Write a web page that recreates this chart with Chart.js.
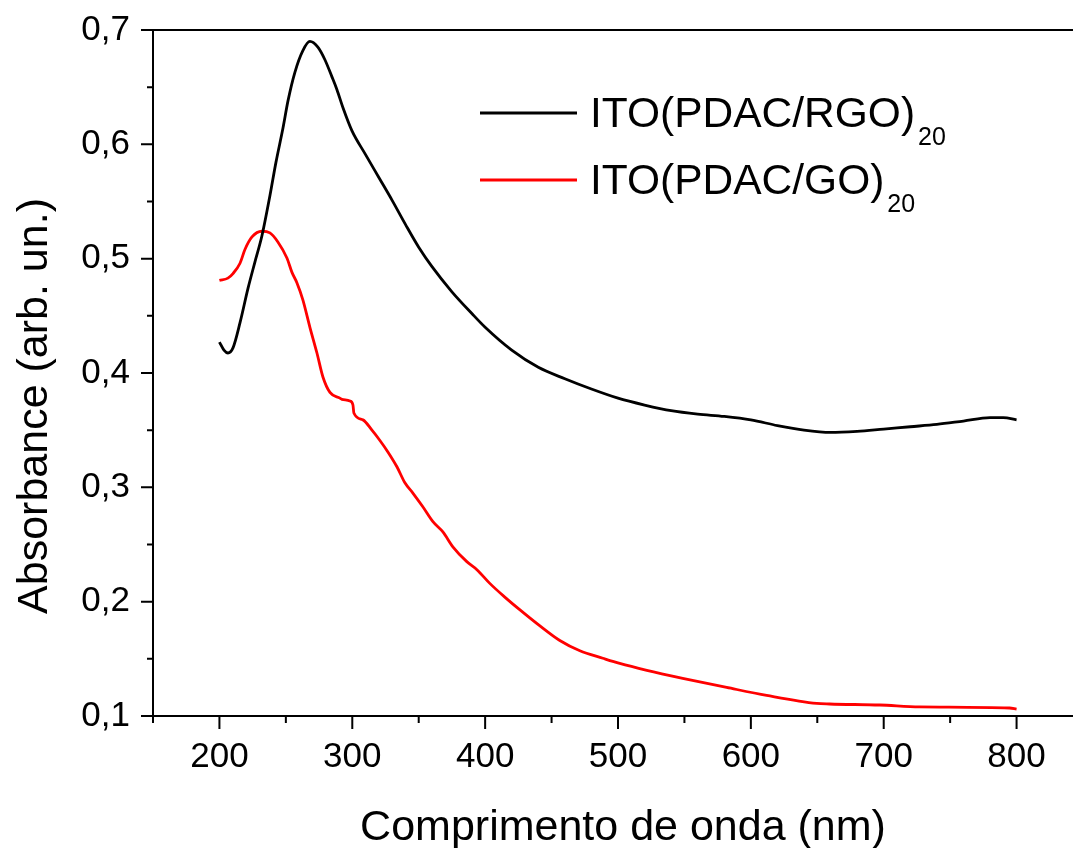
<!DOCTYPE html>
<html>
<head>
<meta charset="utf-8">
<title>Absorbância UV-Vis</title>
<script src="https://cdn.jsdelivr.net/npm/chart.js@4/dist/chart.umd.min.js"></script>
<style>
  html, body { margin: 0; padding: 0; background: #fff; overflow: hidden; }
  canvas { display: block; }
</style>
</head>
<body>
<canvas id="chart" width="1100" height="848"></canvas>
<script>
// Spectrum of ITO(PDAC/RGO)20 — wavelength (nm) and absorbance (arb. un.)
const rgoWavelength = [200, 203.4, 206.4, 210.2, 215.5, 221.5, 226.7, 232, 238, 242.5, 247.8, 251.6, 256.8, 262.8, 268.1, 274.1, 279.4, 284.7, 288.4, 293, 299.7,
  310, 320, 330, 340, 350, 360, 375, 390, 400, 420, 440, 460, 480, 500, 520, 540, 560, 580, 600, 620, 640, 660, 680, 700, 720, 740, 760, 780, 790, 800];
const rgoAbsorbance = [0.427, 0.420, 0.4175, 0.422, 0.444, 0.474, 0.497, 0.520, 0.555, 0.584, 0.614, 0.638, 0.663, 0.682, 0.690, 0.685, 0.674, 0.659, 0.648, 0.632, 0.612,
  0.591, 0.571, 0.551, 0.530, 0.510, 0.493, 0.471, 0.452, 0.440, 0.420, 0.405, 0.395, 0.386, 0.378, 0.372, 0.367, 0.364, 0.362, 0.359, 0.354, 0.350, 0.348, 0.349, 0.351, 0.353, 0.355, 0.358, 0.361, 0.361, 0.359];

// Spectrum of ITO(PDAC/GO)20
const goWavelength = [200, 206.4, 210.2, 215.5, 219.2, 224.5, 232, 238, 244, 250.8, 254.6, 258.3, 262.8, 268.1, 273.4, 277.9, 283.2, 290.7, 292.2, 298.2, 300.5, 301.2,
  308, 314.8, 320.8, 326.8, 333.6, 339.6, 345.6, 353.1, 360.7, 368.2, 375.7, 386.2, 393.8, 403.5, 414.8, 426, 441, 456.2,
  471.3, 488.6, 501.3, 521.7, 548.7, 581.8, 611.9, 649.6, 659.3, 697, 727, 794.7, 800];
const goAbsorbance = [0.481, 0.483, 0.487, 0.496, 0.508, 0.519, 0.524, 0.5225, 0.5146, 0.5006, 0.488, 0.479, 0.464, 0.440, 0.4175, 0.3965, 0.383, 0.378, 0.377, 0.3755, 0.372, 0.365,
  0.359, 0.350, 0.341, 0.331, 0.318, 0.304, 0.295, 0.283, 0.270, 0.261, 0.248, 0.235, 0.228, 0.216, 0.204, 0.193, 0.179, 0.166,
  0.157, 0.1505, 0.146, 0.140, 0.133, 0.125, 0.118, 0.111, 0.1105, 0.1096, 0.108, 0.107, 0.106];

// Axis ticks
const xMajorTicks = [200, 300, 400, 500, 600, 700, 800];
const xMinorTicks = [150, 250, 350, 450, 550, 650, 750, 850];
const yMajorTicks = [0.1, 0.2, 0.3, 0.4, 0.5, 0.6, 0.7];
const yMinorTicks = [0.15, 0.25, 0.35, 0.45, 0.55, 0.65];

// Legend entries: main text + subscript
const seriesNames = ['ITO(PDAC/RGO)', 'ITO(PDAC/GO)'];
const seriesSubscripts = ['20', '20'];
const seriesColors = ['#000000', '#ff0000'];

const FONT = "'Liberation Sans', Arial, Helvetica, sans-serif";

function toPoints(xs, ys) { return xs.map((x, i) => ({ x: x, y: ys[i] })); }

// Frame, tick marks, axis titles and subscripted legend
const decorations = {
  id: 'decorations',
  afterDraw(chart) {
    const ctx = chart.ctx;
    const xs = chart.scales.x, ys = chart.scales.y;
    const area = chart.chartArea;
    ctx.save();
    ctx.strokeStyle = '#000';
    ctx.lineWidth = 2;
    ctx.lineCap = 'butt';
    // axis frame (left, bottom, top)
    ctx.beginPath();
    ctx.moveTo(area.left, area.top); ctx.lineTo(area.left, area.bottom);
    ctx.moveTo(area.left - 12, area.bottom); ctx.lineTo(area.right, area.bottom);
    ctx.moveTo(area.left - 12, area.top); ctx.lineTo(area.right, area.top);
    ctx.stroke();
    // x ticks (outward)
    ctx.beginPath();
    xMajorTicks.forEach(v => { const p = xs.getPixelForValue(v); ctx.moveTo(p, area.bottom); ctx.lineTo(p, area.bottom + 13); });
    xMinorTicks.forEach(v => { const p = xs.getPixelForValue(v); ctx.moveTo(p, area.bottom); ctx.lineTo(p, area.bottom + 7); });
    // y ticks (outward)
    yMajorTicks.forEach(v => { const p = ys.getPixelForValue(v); ctx.moveTo(area.left, p); ctx.lineTo(area.left - 12, p); });
    yMinorTicks.forEach(v => { const p = ys.getPixelForValue(v); ctx.moveTo(area.left, p); ctx.lineTo(area.left - 6, p); });
    ctx.stroke();

    // axis titles
    ctx.fillStyle = '#000';
    ctx.font = '43px ' + FONT;
    ctx.textAlign = 'center';
    ctx.textBaseline = 'alphabetic';
    ctx.fillText('Comprimento de onda (nm)', (area.left + xs.getPixelForValue(850)) / 2 + 5, 840);
    ctx.save();
    ctx.translate(47, 406);
    ctx.rotate(-Math.PI / 2);
    ctx.fillText('Absorbance (arb. un.)', 0, 0);
    ctx.restore();

    // legend
    ctx.textAlign = 'left';
    const rowY = [113, 180];
    seriesNames.forEach((name, i) => {
      const y = rowY[i];
      ctx.strokeStyle = seriesColors[i];
      ctx.lineWidth = 3;
      ctx.beginPath();
      ctx.moveTo(480, y); ctx.lineTo(577, y);
      ctx.stroke();
      ctx.fillStyle = '#000';
      ctx.font = '42.5px ' + FONT;
      ctx.textBaseline = 'alphabetic';
      ctx.fillText(name, 590, y + 14);
      const w = ctx.measureText(name).width;
      ctx.font = '25px ' + FONT;
      ctx.fillText(seriesSubscripts[i], 590 + w + 3, y + 32);
    });
    ctx.restore();
  }
};

new Chart(document.getElementById('chart'), {
  type: 'line',
  data: {
    datasets: [
      {
        label: seriesNames[0] + seriesSubscripts[0],
        data: toPoints(rgoWavelength, rgoAbsorbance),
        borderColor: seriesColors[0],
        borderWidth: 2.8,
        pointRadius: 0,
        cubicInterpolationMode: 'monotone',
        fill: false
      },
      {
        label: seriesNames[1] + seriesSubscripts[1],
        data: toPoints(goWavelength, goAbsorbance),
        borderColor: seriesColors[1],
        borderWidth: 2.8,
        pointRadius: 0,
        cubicInterpolationMode: 'monotone',
        fill: false
      }
    ]
  },
  options: {
    responsive: false,
    animation: false,
    devicePixelRatio: 1,
    layout: { padding: { top: 30, right: 17, left: 0, bottom: 0 } },
    plugins: { legend: { display: false }, tooltip: { enabled: false } },
    scales: {
      x: {
        type: 'linear',
        min: 150,
        max: 850,
        afterBuildTicks: s => { s.ticks = xMajorTicks.map(v => ({ value: v })); },
        afterFit: s => { s.height = 132; s.paddingLeft = 0; s.paddingRight = 0; },
        grid: { display: false },
        border: { display: false },
        ticks: {
          color: '#000',
          font: { family: FONT, size: 35 },
          padding: 12,
          maxRotation: 0,
          autoSkip: false,
          callback: v => String(v)
        }
      },
      y: {
        type: 'linear',
        min: 0.1,
        max: 0.7,
        afterBuildTicks: s => { s.ticks = yMajorTicks.map(v => ({ value: v })); },
        afterFit: s => { s.width = 153; s.paddingTop = 0; s.paddingBottom = 0; },
        grid: { display: false },
        border: { display: false },
        ticks: {
          color: '#000',
          font: { family: FONT, size: 35 },
          padding: 15,
          autoSkip: false,
          callback: v => v.toFixed(1).replace('.', ',')
        }
      }
    }
  },
  plugins: [decorations]
});
</script>
</body>
</html>
